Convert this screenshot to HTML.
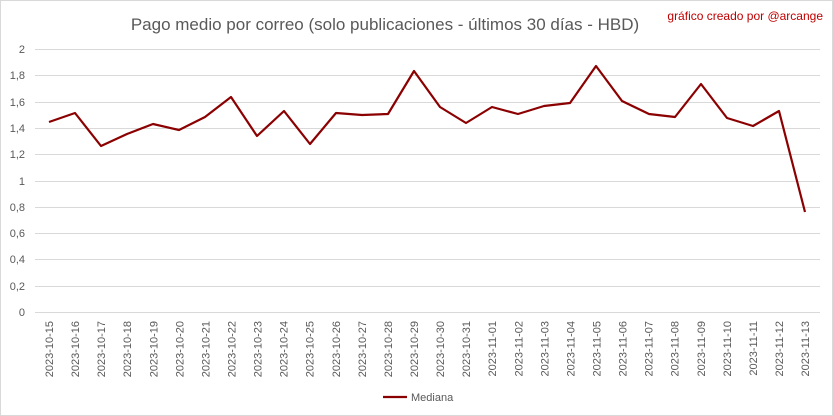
<!DOCTYPE html>
<html><head><meta charset="utf-8"><style>
html,body{margin:0;padding:0;background:#fff}
svg{display:block}
text{font-family:"Liberation Sans",sans-serif}
</style></head><body>
<svg width="833" height="416" xmlns="http://www.w3.org/2000/svg">
<rect x="0.5" y="0.5" width="832" height="415" fill="#fff" stroke="#d9d9d9"/>
<text x="385" y="30" font-size="17" fill="#595959" text-anchor="middle">Pago medio por correo (solo publicaciones - últimos 30 días - HBD)</text>
<text x="823" y="20" font-size="12" fill="#c00000" text-anchor="end">gráfico creado por @arcange</text>
<g stroke="#d9d9d9" stroke-width="1">
<line x1="35" x2="820" y1="49.5" y2="49.5"/><line x1="35" x2="820" y1="75.5" y2="75.5"/>
<line x1="35" x2="820" y1="102.5" y2="102.5"/><line x1="35" x2="820" y1="128.5" y2="128.5"/>
<line x1="35" x2="820" y1="154.5" y2="154.5"/><line x1="35" x2="820" y1="181.5" y2="181.5"/>
<line x1="35" x2="820" y1="207.5" y2="207.5"/><line x1="35" x2="820" y1="233.5" y2="233.5"/>
<line x1="35" x2="820" y1="259.5" y2="259.5"/><line x1="35" x2="820" y1="286.5" y2="286.5"/>
<line x1="35" x2="820" y1="312.5" y2="312.5"/>
</g>
<g font-size="11" fill="#595959" text-anchor="end">
<text x="25" y="53">2</text><text x="25" y="79">1,8</text><text x="25" y="106">1,6</text>
<text x="25" y="132">1,4</text><text x="25" y="158">1,2</text><text x="25" y="185">1</text>
<text x="25" y="211">0,8</text><text x="25" y="237">0,6</text><text x="25" y="263">0,4</text>
<text x="25" y="290">0,2</text><text x="25" y="316">0</text>
</g>
<g font-size="11" fill="#595959" text-anchor="end" id="xl"></g>
<polyline fill="none" stroke="#8b0000" stroke-width="2.2" stroke-linejoin="round" points="49,122 75,113 101,146 127,134 153,124 179,130 205,117 231,97 257,136 284,111 310,144 336,113 362,115 388,114 414,71 440,107 466,123 492,107 518,114 544,106 570,103 596,66 622,101 649,114 675,117 701,84 727,118 753,126 779,111 805,212"/>
<line x1="383" x2="407" y1="397" y2="397" stroke="#8b0000" stroke-width="2.2"/>
<text x="411" y="401" font-size="11" fill="#595959">Mediana</text>
<script>
var g=document.getElementById('xl');var d=new Date(2023,9,15);
for(var i=0;i<30;i++){var x=49+i*26.07;var t=document.createElementNS('http://www.w3.org/2000/svg','text');
var m=('0'+(d.getMonth()+1)).slice(-2),dd=('0'+d.getDate()).slice(-2);
t.setAttribute('transform','translate('+(x+4)+',321) rotate(-90)');t.textContent='2023-'+m+'-'+dd;g.appendChild(t);d.setDate(d.getDate()+1);}
</script>
</svg>
</body></html>
